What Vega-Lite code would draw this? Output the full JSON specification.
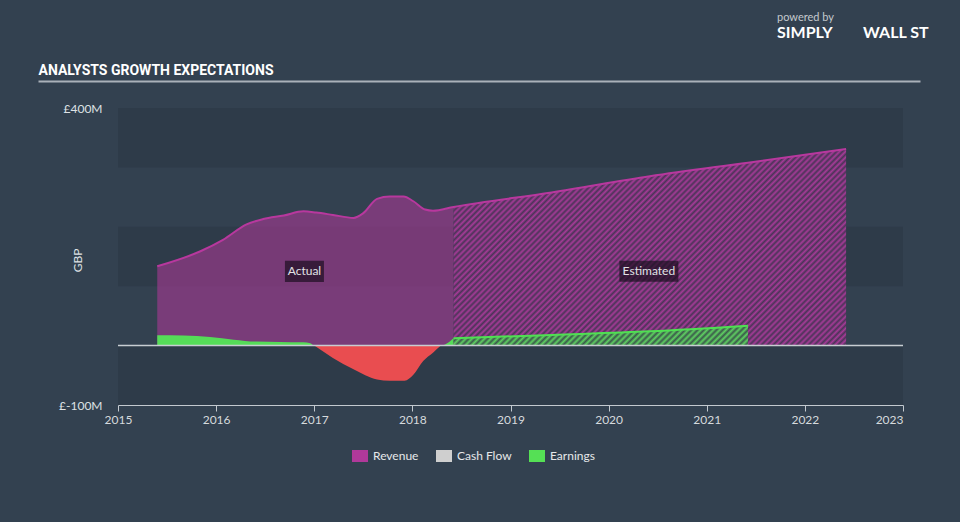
{
  "$schema": "https://vega.github.io/schema/vega-lite/v6.json",
  "autosize": {"type": "none"},
  "width": 785,
  "height": 297,
  "padding": {"left": 118, "top": 108, "right": 57, "bottom": 117},
  "background": "#334150",
  "config": {
    "view": {"stroke": null},
    "font": "Lato",
    "legend": {"labelFont": "Lato"}
  },
  "title": {
    "text": "powered by",
    "subtitle": "SIMPLY\u00a0\u00a0\u00a0\u00a0\u00a0\u00a0\u00a0\u00a0WALL ST",
    "anchor": "start",
    "frame": "group",
    "dx": 659,
    "offset": 22,
    "font": "Lato",
    "fontSize": 11,
    "fontWeight": "normal",
    "color": "#c4c9ce",
    "subtitleFont": "Lato",
    "subtitleFontSize": 16,
    "subtitleFontWeight": "bold",
    "subtitleColor": "#ffffff",
    "subtitlePadding": 2
  },
  "datasets": {
    "revenue": [
      {"year": 2015.40, "value": 133.5, "period": "actual", "series": "Revenue"},
      {"year": 2015.84, "value": 158.8, "period": "actual", "series": "Revenue"},
      {"year": 2016.07, "value": 178, "period": "actual", "series": "Revenue"},
      {"year": 2016.31, "value": 204, "period": "actual", "series": "Revenue"},
      {"year": 2016.48, "value": 213, "period": "actual", "series": "Revenue"},
      {"year": 2016.69, "value": 219, "period": "actual", "series": "Revenue"},
      {"year": 2016.89, "value": 226, "period": "actual", "series": "Revenue"},
      {"year": 2017.02, "value": 224, "period": "actual", "series": "Revenue"},
      {"year": 2017.19, "value": 220, "period": "actual", "series": "Revenue"},
      {"year": 2017.40, "value": 215, "period": "actual", "series": "Revenue"},
      {"year": 2017.50, "value": 223, "period": "actual", "series": "Revenue"},
      {"year": 2017.64, "value": 247, "period": "actual", "series": "Revenue"},
      {"year": 2017.77, "value": 251, "period": "actual", "series": "Revenue"},
      {"year": 2017.91, "value": 251, "period": "actual", "series": "Revenue"},
      {"year": 2018.01, "value": 243, "period": "actual", "series": "Revenue"},
      {"year": 2018.13, "value": 229, "period": "actual", "series": "Revenue"},
      {"year": 2018.21, "value": 227, "period": "actual", "series": "Revenue"},
      {"year": 2018.42, "value": 233.5, "period": "actual", "series": "Revenue"},
      {"year": 2018.42, "value": 233.5, "period": "estimated", "series": "Revenue"},
      {"year": 2019.42, "value": 257.8, "period": "estimated", "series": "Revenue"},
      {"year": 2020.42, "value": 285, "period": "estimated", "series": "Revenue"},
      {"year": 2021.42, "value": 308, "period": "estimated", "series": "Revenue"},
      {"year": 2022.42, "value": 331, "period": "estimated", "series": "Revenue"}
    ],
    "earnings": [
      {"year": 2015.40, "value": 17.4, "period": "actual", "seg": "pos1"},
      {"year": 2015.67, "value": 16.8, "period": "actual", "seg": "pos1"},
      {"year": 2015.94, "value": 14.6, "period": "actual", "seg": "pos1"},
      {"year": 2016.18, "value": 10, "period": "actual", "seg": "pos1"},
      {"year": 2016.41, "value": 6.7, "period": "actual", "seg": "pos1"},
      {"year": 2016.65, "value": 6.2, "period": "actual", "seg": "pos1"},
      {"year": 2016.89, "value": 5.6, "period": "actual", "seg": "pos1"},
      {"year": 2016.96, "value": 3.9, "period": "actual", "seg": "pos1"},
      {"year": 2017.00, "value": 0, "period": "actual", "seg": "pos1"},
      {"year": 2017.00, "value": 0, "period": "actual", "seg": "neg"},
      {"year": 2017.19, "value": -20.8, "period": "actual", "seg": "neg"},
      {"year": 2017.40, "value": -40, "period": "actual", "seg": "neg"},
      {"year": 2017.64, "value": -57, "period": "actual", "seg": "neg"},
      {"year": 2017.77, "value": -59, "period": "actual", "seg": "neg"},
      {"year": 2017.92, "value": -59, "period": "actual", "seg": "neg"},
      {"year": 2018.01, "value": -49, "period": "actual", "seg": "neg"},
      {"year": 2018.11, "value": -26, "period": "actual", "seg": "neg"},
      {"year": 2018.21, "value": -12, "period": "actual", "seg": "neg"},
      {"year": 2018.29, "value": 0, "period": "actual", "seg": "neg"},
      {"year": 2018.29, "value": 0, "period": "actual", "seg": "pos2"},
      {"year": 2018.42, "value": 12.3, "period": "actual", "seg": "pos2"},
      {"year": 2018.42, "value": 12.3, "period": "estimated", "seg": "est"},
      {"year": 2019.42, "value": 18, "period": "estimated", "seg": "est"},
      {"year": 2020.42, "value": 24, "period": "estimated", "seg": "est"},
      {"year": 2021.42, "value": 33.5, "period": "estimated", "seg": "est"}
    ],
    "bands": [
      {"lo": 300, "hi": 400},
      {"lo": 100, "hi": 200},
      {"lo": -100, "hi": 0}
    ],
    "labels": [
      {"year": 2016.90, "value": 125, "label": "Actual"},
      {"year": 2020.41, "value": 125, "label": "Estimated"}
    ]
  },
  "layer": [
    {
      "layer": [
        {
          "data": {"name": "bands"},
          "mark": {"type": "rect", "color": "#2e3b49"},
          "encoding": {
            "y": {"field": "lo", "type": "quantitative", "scale": {"domain": [-100, 400], "nice": false},
              "axis": {"values": [400, -100], "labelExpr": "'£' + datum.value + 'M'", "ticks": false, "domain": false, "grid": false,
                "labelColor": "#dfe2e5", "labelFontSize": 12, "labelFont": "Lato", "labelPadding": 16,
                "title": "GBP", "titleColor": "#dfe2e5", "titleFontSize": 12, "titleFont": "Lato", "titleFontWeight": "normal",
                "titleX": -41, "titleY": 152, "titleAngle": -90, "titleAlign": "center", "titleBaseline": "middle"}},
            "y2": {"field": "hi"}
          }
        },
        {
          "data": {"name": "revenue"},
          "transform": [{"filter": "datum.period == 'actual'"}],
          "mark": {"type": "area", "interpolate": "monotone", "fillOpacity": 0.56},
          "encoding": {
            "x": {"field": "year", "type": "quantitative", "scale": {"domain": [2015, 2023], "nice": false},
              "axis": {"values": [2015, 2016, 2017, 2018, 2019, 2020, 2021, 2022, 2023], "format": "d", "grid": false,
                "domainColor": "#c3c9cf", "tickColor": "#c3c9cf", "tickSize": 6, "labelColor": "#d6dadd", "labelFontSize": 12,
                "labelFont": "Lato", "labelPadding": 3, "labelFlush": false, "labelOverlap": false,
                "labelAlign": {"expr": "datum.value == 2023 ? 'right' : 'center'"}, "title": null}},
            "y": {"field": "value", "type": "quantitative"},
            "color": {"field": "series", "type": "nominal",
              "scale": {"domain": ["Revenue", "Cash Flow", "Earnings"], "range": ["#b0399a", "#cfcfcf", "#55e055"]},
              "legend": {"orient": "none", "legendX": 234, "legendY": 340, "direction": "horizontal", "title": null,
                "symbolType": "M-1,-0.75H1V0.75H-1Z", "symbolSize": 256, "symbolOpacity": 1, "symbolStrokeWidth": 0,
                "labelFontSize": 12, "labelColor": "#e6e8ea", "labelOffset": 5, "columnPadding": 17, "padding": 0,
                "labelFont": "Lato"}}
          }
        },
        {
          "data": {"name": "revenue"},
          "transform": [{"filter": "datum.period == 'estimated'"}],
          "mark": {"type": "area", "interpolate": "monotone",
            "fill": {"gradient": "linear", "x1": 0, "y1": 0, "x2": 1.2, "y2": 0.6, "stops": [
              {"offset":0,"color":"#a53b97"},{"offset":0.005,"color":"#4b3458"},{"offset":0.01,"color":"#a53b97"},{"offset":0.015,"color":"#4b3458"},{"offset":0.02,"color":"#a53b97"},{"offset":0.025,"color":"#4b3458"},{"offset":0.03,"color":"#a53b97"},{"offset":0.035,"color":"#4b3458"},{"offset":0.04,"color":"#a53b97"},{"offset":0.045,"color":"#4b3458"},
              {"offset":0.05,"color":"#a53b97"},{"offset":0.055,"color":"#4b3458"},{"offset":0.06,"color":"#a53b97"},{"offset":0.065,"color":"#4b3458"},{"offset":0.07,"color":"#a53b97"},{"offset":0.075,"color":"#4b3458"},{"offset":0.08,"color":"#a53b97"},{"offset":0.085,"color":"#4b3458"},{"offset":0.09,"color":"#a53b97"},{"offset":0.095,"color":"#4b3458"},
              {"offset":0.1,"color":"#a53b97"},{"offset":0.105,"color":"#4b3458"},{"offset":0.11,"color":"#a53b97"},{"offset":0.115,"color":"#4b3458"},{"offset":0.12,"color":"#a53b97"},{"offset":0.125,"color":"#4b3458"},{"offset":0.13,"color":"#a53b97"},{"offset":0.135,"color":"#4b3458"},{"offset":0.14,"color":"#a53b97"},{"offset":0.145,"color":"#4b3458"},
              {"offset":0.15,"color":"#a53b97"},{"offset":0.155,"color":"#4b3458"},{"offset":0.16,"color":"#a53b97"},{"offset":0.165,"color":"#4b3458"},{"offset":0.17,"color":"#a53b97"},{"offset":0.175,"color":"#4b3458"},{"offset":0.18,"color":"#a53b97"},{"offset":0.185,"color":"#4b3458"},{"offset":0.19,"color":"#a53b97"},{"offset":0.195,"color":"#4b3458"},
              {"offset":0.2,"color":"#a53b97"},{"offset":0.205,"color":"#4b3458"},{"offset":0.21,"color":"#a53b97"},{"offset":0.215,"color":"#4b3458"},{"offset":0.22,"color":"#a53b97"},{"offset":0.225,"color":"#4b3458"},{"offset":0.23,"color":"#a53b97"},{"offset":0.235,"color":"#4b3458"},{"offset":0.24,"color":"#a53b97"},{"offset":0.245,"color":"#4b3458"},
              {"offset":0.25,"color":"#a53b97"},{"offset":0.255,"color":"#4b3458"},{"offset":0.26,"color":"#a53b97"},{"offset":0.265,"color":"#4b3458"},{"offset":0.27,"color":"#a53b97"},{"offset":0.275,"color":"#4b3458"},{"offset":0.28,"color":"#a53b97"},{"offset":0.285,"color":"#4b3458"},{"offset":0.29,"color":"#a53b97"},{"offset":0.295,"color":"#4b3458"},
              {"offset":0.3,"color":"#a53b97"},{"offset":0.305,"color":"#4b3458"},{"offset":0.31,"color":"#a53b97"},{"offset":0.315,"color":"#4b3458"},{"offset":0.32,"color":"#a53b97"},{"offset":0.325,"color":"#4b3458"},{"offset":0.33,"color":"#a53b97"},{"offset":0.335,"color":"#4b3458"},{"offset":0.34,"color":"#a53b97"},{"offset":0.345,"color":"#4b3458"},
              {"offset":0.35,"color":"#a53b97"},{"offset":0.355,"color":"#4b3458"},{"offset":0.36,"color":"#a53b97"},{"offset":0.365,"color":"#4b3458"},{"offset":0.37,"color":"#a53b97"},{"offset":0.375,"color":"#4b3458"},{"offset":0.38,"color":"#a53b97"},{"offset":0.385,"color":"#4b3458"},{"offset":0.39,"color":"#a53b97"},{"offset":0.395,"color":"#4b3458"},
              {"offset":0.4,"color":"#a53b97"},{"offset":0.405,"color":"#4b3458"},{"offset":0.41,"color":"#a53b97"},{"offset":0.415,"color":"#4b3458"},{"offset":0.42,"color":"#a53b97"},{"offset":0.425,"color":"#4b3458"},{"offset":0.43,"color":"#a53b97"},{"offset":0.435,"color":"#4b3458"},{"offset":0.44,"color":"#a53b97"},{"offset":0.445,"color":"#4b3458"},
              {"offset":0.45,"color":"#a53b97"},{"offset":0.455,"color":"#4b3458"},{"offset":0.46,"color":"#a53b97"},{"offset":0.465,"color":"#4b3458"},{"offset":0.47,"color":"#a53b97"},{"offset":0.475,"color":"#4b3458"},{"offset":0.48,"color":"#a53b97"},{"offset":0.485,"color":"#4b3458"},{"offset":0.49,"color":"#a53b97"},{"offset":0.495,"color":"#4b3458"},
              {"offset":0.5,"color":"#a53b97"},{"offset":0.505,"color":"#4b3458"},{"offset":0.51,"color":"#a53b97"},{"offset":0.515,"color":"#4b3458"},{"offset":0.52,"color":"#a53b97"},{"offset":0.525,"color":"#4b3458"},{"offset":0.53,"color":"#a53b97"},{"offset":0.535,"color":"#4b3458"},{"offset":0.54,"color":"#a53b97"},{"offset":0.545,"color":"#4b3458"},
              {"offset":0.55,"color":"#a53b97"},{"offset":0.555,"color":"#4b3458"},{"offset":0.56,"color":"#a53b97"},{"offset":0.565,"color":"#4b3458"},{"offset":0.57,"color":"#a53b97"},{"offset":0.575,"color":"#4b3458"},{"offset":0.58,"color":"#a53b97"},{"offset":0.585,"color":"#4b3458"},{"offset":0.59,"color":"#a53b97"},{"offset":0.595,"color":"#4b3458"},
              {"offset":0.6,"color":"#a53b97"},{"offset":0.605,"color":"#4b3458"},{"offset":0.61,"color":"#a53b97"},{"offset":0.615,"color":"#4b3458"},{"offset":0.62,"color":"#a53b97"},{"offset":0.625,"color":"#4b3458"},{"offset":0.63,"color":"#a53b97"},{"offset":0.635,"color":"#4b3458"},{"offset":0.64,"color":"#a53b97"},{"offset":0.645,"color":"#4b3458"},
              {"offset":0.65,"color":"#a53b97"},{"offset":0.655,"color":"#4b3458"},{"offset":0.66,"color":"#a53b97"},{"offset":0.665,"color":"#4b3458"},{"offset":0.67,"color":"#a53b97"},{"offset":0.675,"color":"#4b3458"},{"offset":0.68,"color":"#a53b97"},{"offset":0.685,"color":"#4b3458"},{"offset":0.69,"color":"#a53b97"},{"offset":0.695,"color":"#4b3458"},
              {"offset":0.7,"color":"#a53b97"},{"offset":0.705,"color":"#4b3458"},{"offset":0.71,"color":"#a53b97"},{"offset":0.715,"color":"#4b3458"},{"offset":0.72,"color":"#a53b97"},{"offset":0.725,"color":"#4b3458"},{"offset":0.73,"color":"#a53b97"},{"offset":0.735,"color":"#4b3458"},{"offset":0.74,"color":"#a53b97"},{"offset":0.745,"color":"#4b3458"},
              {"offset":0.75,"color":"#a53b97"},{"offset":0.755,"color":"#4b3458"},{"offset":0.76,"color":"#a53b97"},{"offset":0.765,"color":"#4b3458"},{"offset":0.77,"color":"#a53b97"},{"offset":0.775,"color":"#4b3458"},{"offset":0.78,"color":"#a53b97"},{"offset":0.785,"color":"#4b3458"},{"offset":0.79,"color":"#a53b97"},{"offset":0.795,"color":"#4b3458"},
              {"offset":0.8,"color":"#a53b97"},{"offset":0.805,"color":"#4b3458"},{"offset":0.81,"color":"#a53b97"},{"offset":0.815,"color":"#4b3458"},{"offset":0.82,"color":"#a53b97"},{"offset":0.825,"color":"#4b3458"},{"offset":0.83,"color":"#a53b97"},{"offset":0.835,"color":"#4b3458"},{"offset":0.84,"color":"#a53b97"},{"offset":0.845,"color":"#4b3458"},
              {"offset":0.85,"color":"#a53b97"},{"offset":0.855,"color":"#4b3458"},{"offset":0.86,"color":"#a53b97"},{"offset":0.865,"color":"#4b3458"},{"offset":0.87,"color":"#a53b97"},{"offset":0.875,"color":"#4b3458"},{"offset":0.88,"color":"#a53b97"},{"offset":0.885,"color":"#4b3458"},{"offset":0.89,"color":"#a53b97"},{"offset":0.895,"color":"#4b3458"},
              {"offset":0.9,"color":"#a53b97"},{"offset":0.905,"color":"#4b3458"},{"offset":0.91,"color":"#a53b97"},{"offset":0.915,"color":"#4b3458"},{"offset":0.92,"color":"#a53b97"},{"offset":0.925,"color":"#4b3458"},{"offset":0.93,"color":"#a53b97"},{"offset":0.935,"color":"#4b3458"},{"offset":0.94,"color":"#a53b97"},{"offset":0.945,"color":"#4b3458"},
              {"offset":0.95,"color":"#a53b97"},{"offset":0.955,"color":"#4b3458"},{"offset":0.96,"color":"#a53b97"},{"offset":0.965,"color":"#4b3458"},{"offset":0.97,"color":"#a53b97"},{"offset":0.975,"color":"#4b3458"},{"offset":0.98,"color":"#a53b97"},{"offset":0.985,"color":"#4b3458"},{"offset":0.99,"color":"#a53b97"},{"offset":0.995,"color":"#4b3458"},
              {"offset":1,"color":"#a53b97"}
            ]}},
          "encoding": {
            "x": {"field": "year", "type": "quantitative"},
            "y": {"field": "value", "type": "quantitative"}
          }
        },
        {
          "data": {"name": "revenue"},
          "transform": [{"filter": "datum.period == 'actual' || datum.year > 2018.42"}],
          "mark": {"type": "line", "interpolate": "monotone", "color": "#b8389e", "strokeWidth": 2},
          "encoding": {
            "x": {"field": "year", "type": "quantitative"},
            "y": {"field": "value", "type": "quantitative"}
          }
        },
        {
          "data": {"name": "earnings"},
          "transform": [{"filter": "datum.seg == 'pos1' || datum.seg == 'pos2'"}],
          "mark": {"type": "area", "interpolate": "monotone", "color": "#55dc58", "opacity": 1},
          "encoding": {
            "x": {"field": "year", "type": "quantitative"},
            "y": {"field": "value", "type": "quantitative"},
            "detail": {"field": "seg"}
          }
        },
        {
          "data": {"name": "earnings"},
          "transform": [{"filter": "datum.seg == 'neg'"}],
          "mark": {"type": "area", "interpolate": "monotone", "color": "#e94d50", "opacity": 1},
          "encoding": {
            "x": {"field": "year", "type": "quantitative"},
            "y": {"field": "value", "type": "quantitative"}
          }
        },
        {
          "data": {"name": "earnings"},
          "transform": [{"filter": "datum.seg == 'est'"}],
          "mark": {"type": "area", "interpolate": "monotone",
            "fill": {"gradient": "linear", "x1": 0, "y1": 0, "x2": 1.063, "y2": 0.072, "stops": [
              {"offset":0,"color":"#5fd062"},{"offset":0.01,"color":"#3b5a4b"},{"offset":0.02,"color":"#5fd062"},{"offset":0.03,"color":"#3b5a4b"},{"offset":0.04,"color":"#5fd062"},{"offset":0.05,"color":"#3b5a4b"},{"offset":0.06,"color":"#5fd062"},{"offset":0.07,"color":"#3b5a4b"},{"offset":0.08,"color":"#5fd062"},{"offset":0.09,"color":"#3b5a4b"},
              {"offset":0.1,"color":"#5fd062"},{"offset":0.11,"color":"#3b5a4b"},{"offset":0.12,"color":"#5fd062"},{"offset":0.13,"color":"#3b5a4b"},{"offset":0.14,"color":"#5fd062"},{"offset":0.15,"color":"#3b5a4b"},{"offset":0.16,"color":"#5fd062"},{"offset":0.17,"color":"#3b5a4b"},{"offset":0.18,"color":"#5fd062"},{"offset":0.19,"color":"#3b5a4b"},
              {"offset":0.2,"color":"#5fd062"},{"offset":0.21,"color":"#3b5a4b"},{"offset":0.22,"color":"#5fd062"},{"offset":0.23,"color":"#3b5a4b"},{"offset":0.24,"color":"#5fd062"},{"offset":0.25,"color":"#3b5a4b"},{"offset":0.26,"color":"#5fd062"},{"offset":0.27,"color":"#3b5a4b"},{"offset":0.28,"color":"#5fd062"},{"offset":0.29,"color":"#3b5a4b"},
              {"offset":0.3,"color":"#5fd062"},{"offset":0.31,"color":"#3b5a4b"},{"offset":0.32,"color":"#5fd062"},{"offset":0.33,"color":"#3b5a4b"},{"offset":0.34,"color":"#5fd062"},{"offset":0.35,"color":"#3b5a4b"},{"offset":0.36,"color":"#5fd062"},{"offset":0.37,"color":"#3b5a4b"},{"offset":0.38,"color":"#5fd062"},{"offset":0.39,"color":"#3b5a4b"},
              {"offset":0.4,"color":"#5fd062"},{"offset":0.41,"color":"#3b5a4b"},{"offset":0.42,"color":"#5fd062"},{"offset":0.43,"color":"#3b5a4b"},{"offset":0.44,"color":"#5fd062"},{"offset":0.45,"color":"#3b5a4b"},{"offset":0.46,"color":"#5fd062"},{"offset":0.47,"color":"#3b5a4b"},{"offset":0.48,"color":"#5fd062"},{"offset":0.49,"color":"#3b5a4b"},
              {"offset":0.5,"color":"#5fd062"},{"offset":0.51,"color":"#3b5a4b"},{"offset":0.52,"color":"#5fd062"},{"offset":0.53,"color":"#3b5a4b"},{"offset":0.54,"color":"#5fd062"},{"offset":0.55,"color":"#3b5a4b"},{"offset":0.56,"color":"#5fd062"},{"offset":0.57,"color":"#3b5a4b"},{"offset":0.58,"color":"#5fd062"},{"offset":0.59,"color":"#3b5a4b"},
              {"offset":0.6,"color":"#5fd062"},{"offset":0.61,"color":"#3b5a4b"},{"offset":0.62,"color":"#5fd062"},{"offset":0.63,"color":"#3b5a4b"},{"offset":0.64,"color":"#5fd062"},{"offset":0.65,"color":"#3b5a4b"},{"offset":0.66,"color":"#5fd062"},{"offset":0.67,"color":"#3b5a4b"},{"offset":0.68,"color":"#5fd062"},{"offset":0.69,"color":"#3b5a4b"},
              {"offset":0.7,"color":"#5fd062"},{"offset":0.71,"color":"#3b5a4b"},{"offset":0.72,"color":"#5fd062"},{"offset":0.73,"color":"#3b5a4b"},{"offset":0.74,"color":"#5fd062"},{"offset":0.75,"color":"#3b5a4b"},{"offset":0.76,"color":"#5fd062"},{"offset":0.77,"color":"#3b5a4b"},{"offset":0.78,"color":"#5fd062"},{"offset":0.79,"color":"#3b5a4b"},
              {"offset":0.8,"color":"#5fd062"},{"offset":0.81,"color":"#3b5a4b"},{"offset":0.82,"color":"#5fd062"},{"offset":0.83,"color":"#3b5a4b"},{"offset":0.84,"color":"#5fd062"},{"offset":0.85,"color":"#3b5a4b"},{"offset":0.86,"color":"#5fd062"},{"offset":0.87,"color":"#3b5a4b"},{"offset":0.88,"color":"#5fd062"},{"offset":0.89,"color":"#3b5a4b"},
              {"offset":0.9,"color":"#5fd062"},{"offset":0.91,"color":"#3b5a4b"},{"offset":0.92,"color":"#5fd062"},{"offset":0.93,"color":"#3b5a4b"},{"offset":0.94,"color":"#5fd062"},{"offset":0.95,"color":"#3b5a4b"},{"offset":0.96,"color":"#5fd062"},{"offset":0.97,"color":"#3b5a4b"},{"offset":0.98,"color":"#5fd062"},{"offset":0.99,"color":"#3b5a4b"},
              {"offset":1,"color":"#5fd062"}
            ]}},
          "encoding": {
            "x": {"field": "year", "type": "quantitative"},
            "y": {"field": "value", "type": "quantitative"}
          }
        },
        {
          "data": {"name": "earnings"},
          "transform": [{"filter": "datum.seg == 'est'"}],
          "mark": {"type": "line", "interpolate": "monotone", "color": "#4fe052", "strokeWidth": 2},
          "encoding": {
            "x": {"field": "year", "type": "quantitative"},
            "y": {"field": "value", "type": "quantitative"}
          }
        },
        {
          "data": {"values": [{"value": 0}]},
          "mark": {"type": "rule", "color": "#c8cdd2", "strokeWidth": 1.5},
          "encoding": {
            "y": {"field": "value", "type": "quantitative"}
          }
        },
        {
          "data": {"name": "labels"},
          "transform": [{"filter": "datum.label == 'Actual'"}],
          "mark": {"type": "point", "shape": "M-1,-0.54H1V0.54H-1Z", "size": 1521, "filled": true, "color": "#1e0f22", "opacity": 0.72, "strokeWidth": 0},
          "encoding": {
            "x": {"field": "year", "type": "quantitative"},
            "y": {"field": "value", "type": "quantitative"}
          }
        },
        {
          "data": {"name": "labels"},
          "transform": [{"filter": "datum.label == 'Estimated'"}],
          "mark": {"type": "point", "shape": "M-1,-0.356H1V0.356H-1Z", "size": 3481, "filled": true, "color": "#1e0f22", "opacity": 0.72, "strokeWidth": 0},
          "encoding": {
            "x": {"field": "year", "type": "quantitative"},
            "y": {"field": "value", "type": "quantitative"}
          }
        },
        {
          "data": {"name": "labels"},
          "mark": {"type": "text", "color": "#e2e2e6", "fontSize": 12, "font": "Lato", "align": "center", "baseline": "middle"},
          "encoding": {
            "x": {"field": "year", "type": "quantitative"},
            "y": {"field": "value", "type": "quantitative"},
            "text": {"field": "label"}
          }
        }
      ]
    },
    {
      "data": {"name": "labels"},
      "mark": {"type": "point", "opacity": 0},
      "encoding": {
        "x": {"field": "year", "type": "quantitative", "scale": {"domain": [2015, 2023], "range": [-80, 802], "nice": false},
          "axis": {"orient": "top", "offset": 27, "domain": true, "domainColor": "#aab1b9", "domainWidth": 2, "ticks": false, "labels": false, "grid": false,
            "title": "ANALYSTS GROWTH EXPECTATIONS", "titleX": -80, "titleY": -7, "titleAlign": "left", "titleAnchor": null, "titleAngle": 0,
            "titleBaseline": "alphabetic", "titleColor": "#ffffff", "titleFontSize": 14, "titleFontWeight": "bold",
            "titleFont": "Roboto"}}
      }
    }
  ],
  "resolve": {"scale": {"x": "independent"}, "axis": {"x": "independent"}}
}
